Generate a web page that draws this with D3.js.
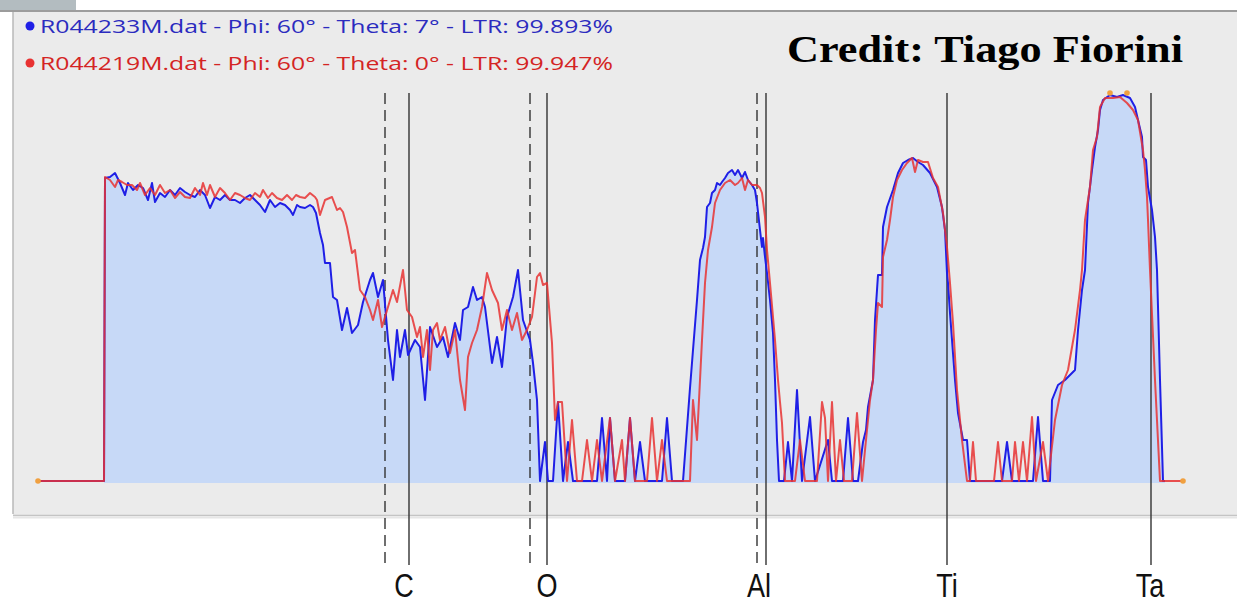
<!DOCTYPE html>
<html>
<head>
<meta charset="utf-8">
<script src="https://cdn.jsdelivr.net/npm/d3@7"></script>
<style>
  body { margin: 0; background: #fff; }
  svg { display: block; }
</style>
</head>
<body>
<svg id="chart" width="1237" height="605"></svg>
<script>
// Spectrum data: [channel, counts]
const spectrumA = [ // R044233M.dat (blue)
  [0,0],[66,0],[67,303],[72,304],[77,308],[82,298],[87,286],[90,298],[95,291],[100,296],
  [105,293],[110,281],[114,298],[117,279],[122,288],[127,284],[132,291],[137,286],[142,293],
  [147,289],[152,286],[157,284],[162,291],[167,286],[172,273],[177,284],[182,281],[187,286],
  [192,281],[197,281],[202,278],[207,283],[212,286],[217,281],[222,276],[227,269],[232,281],
  [237,274],[242,278],[247,276],[252,271],[255,266],[259,276],[262,274],[267,273],[272,276],
  [275,274],[278,268],[282,248],[285,236],[287,218],[292,218],[295,184],[299,181],[304,151],
  [309,173],[314,148],[320,156],[325,179],[332,201],[335,208],[340,184],[345,201],[350,141],
  [355,101],[359,151],[362,124],[367,151],[370,126],[377,141],[382,134],[387,81],[392,154],
  [399,134],[405,144],[410,124],[417,158],[422,141],[425,171],[430,174],[435,194],[439,181],
  [444,184],[447,174],[454,118],[459,144],[464,114],[469,164],[475,184],[480,211],[485,161],
  [492,141],[495,118],[499,81],[502,0],[507,39],[510,0],[515,0],[520,79],[525,0],[530,39],
  [535,0],[559,0],[564,63],[569,0],[572,63],[577,0],[587,0],[592,63],[597,0],[602,39],
  [607,0],[624,0],[629,63],[634,0],[645,0],[652,93],[655,131],[659,181],[662,221],[665,233],
  [667,244],[669,274],[672,278],[674,288],[677,291],[679,298],[682,296],[684,299],[687,303],
  [690,308],[694,311],[697,306],[700,311],[704,303],[707,309],[710,301],[714,296],[717,291],
  [719,278],[722,251],[724,234],[725,243],[727,224],[729,208],[732,181],[735,148],[737,101],
  [739,41],[741,0],[746,0],[750,39],[754,0],[759,91],[764,0],[772,64],[777,0],[790,41],
  [794,0],[805,0],[810,63],[815,0],[820,0],[825,39],[828,51],[830,74],[835,101],[837,161],
  [840,206],[844,206],[845,254],[849,274],[855,291],[860,308],[865,318],[870,321],[875,323],
  [880,319],[885,316],[892,308],[899,294],[904,274],[907,251],[909,208],[910,198],[912,168],
  [917,101],[920,68],[925,41],[929,41],[932,0],[964,0],[969,39],[974,0],[995,0],[1000,64],
  [1005,0],[1012,0],[1014,81],[1020,96],[1027,101],[1032,106],[1037,111],[1040,151],
  [1044,191],[1047,211],[1050,278],[1054,311],[1057,334],[1060,351],[1062,371],[1065,381],
  [1072,386],[1079,384],[1085,386],[1092,383],[1097,374],[1100,361],[1104,344],[1105,324],
  [1108,321],[1110,294],[1114,271],[1117,244],[1119,211],[1122,101],[1125,0],[1127,0]
];

const spectrumB = [ // R044219M.dat (red)
  [0,0],[66,0],[67,304],[72,301],[77,294],[80,301],[84,299],[89,296],[94,296],[99,291],
  [102,298],[107,286],[112,293],[117,286],[122,296],[127,288],[132,291],[137,283],[142,289],
  [147,284],[152,283],[157,293],[162,286],[165,298],[169,286],[172,296],[177,284],[182,293],
  [187,288],[192,281],[197,288],[202,286],[207,283],[212,281],[217,288],[222,284],[225,291],
  [230,283],[234,288],[239,283],[244,281],[249,286],[254,281],[258,286],[262,284],[267,283],
  [272,288],[277,284],[279,281],[282,266],[287,281],[294,284],[299,271],[302,273],[305,269],
  [309,254],[314,228],[317,231],[322,191],[327,184],[332,171],[335,161],[340,181],[344,154],
  [350,174],[355,191],[359,179],[365,211],[369,171],[374,164],[379,144],[382,154],[385,124],
  [389,151],[392,111],[395,151],[399,158],[402,141],[407,154],[412,128],[417,151],[422,101],
  [427,71],[430,124],[434,138],[439,151],[444,174],[449,208],[454,191],[460,178],[464,151],
  [469,171],[474,151],[479,168],[484,141],[489,151],[494,164],[499,204],[502,208],[505,196],
  [509,198],[514,138],[517,61],[520,79],[524,79],[529,0],[534,61],[539,0],[544,0],[549,41],
  [554,0],[559,41],[564,0],[572,63],[577,0],[584,41],[587,0],[592,63],[597,0],[609,0],
  [614,63],[619,0],[624,41],[629,0],[652,0],[655,81],[659,41],[662,101],[664,141],[667,198],
  [670,231],[674,254],[677,278],[682,291],[687,298],[692,301],[697,296],[700,298],[704,303],
  [707,291],[710,301],[714,296],[719,296],[722,293],[724,288],[727,264],[729,231],[732,198],
  [735,164],[737,141],[740,101],[742,79],[744,58],[747,0],[757,0],[762,41],[767,0],[779,0],
  [784,79],[787,63],[790,0],[794,79],[798,0],[802,41],[806,0],[814,0],[819,68],[824,0],
  [828,41],[832,81],[835,101],[838,151],[840,178],[844,174],[845,224],[849,241],[852,261],
  [855,284],[859,301],[864,311],[869,318],[874,323],[877,309],[880,321],[885,319],[890,319],
  [895,303],[900,294],[905,268],[909,234],[912,198],[915,158],[919,91],[924,41],[929,0],
  [932,0],[935,39],[938,0],[956,0],[960,39],[964,0],[974,0],[977,39],[981,0],[985,39],
  [989,0],[994,64],[998,0],[1005,39],[1010,0],[1017,61],[1024,96],[1030,111],[1037,151],
  [1042,191],[1044,211],[1047,261],[1052,294],[1055,331],[1059,344],[1062,374],[1067,383],
  [1075,383],[1082,384],[1089,378],[1095,371],[1100,361],[1105,331],[1107,311],[1109,284],
  [1110,261],[1112,211],[1117,101],[1122,0],[1145,0]
];

const markers = [[0,0],[1145,0],[1072,388],[1089,388]];

const elements = ["C", "O", "Al", "Ti", "Ta"];
const edgeChannels = [371, 509, 728, 909, 1113];
const refChannels = [347, 492, 719];
const labelChannels = [366, 509, 721, 909, 1112];

const legendNames = [
  "R044233M.dat - Phi: 60\u00b0 - Theta: 7\u00b0 - LTR: 99.893%",
  "R044219M.dat - Phi: 60\u00b0 - Theta: 0\u00b0 - LTR: 99.947%"
];
const seriesColors = ["#1f1fe6", "#e83232"];
const legendText = ["#2b2bbf", "#d42424"];

const svg = d3.select("#chart");

// window frame
svg.append("rect").attr("x", 0).attr("y", 0).attr("width", 76).attr("height", 10).attr("fill", "#b3bcc0");
svg.append("rect").attr("x", 13).attr("y", 12).attr("width", 1224).attr("height", 503).attr("fill", "#ebebeb");
svg.append("line").attr("x1", 0).attr("x2", 1237).attr("y1", 11).attr("y2", 11)
  .attr("stroke", "#9c9c9c").attr("stroke-width", 2);
svg.append("line").attr("x1", 13).attr("x2", 13).attr("y1", 12).attr("y2", 514)
  .attr("stroke", "#b8b8b8").attr("stroke-width", 1.5);
svg.append("line").attr("x1", 13).attr("x2", 1237).attr("y1", 515.5).attr("y2", 515.5)
  .attr("stroke", "#c4c4c4").attr("stroke-width", 1.5);
svg.append("line").attr("x1", 13).attr("x2", 1237).attr("y1", 517.5).attr("y2", 517.5)
  .attr("stroke", "#e6e6e6").attr("stroke-width", 2);

const x = d3.scaleLinear().domain([0, 1145]).range([38, 1183]);
const y = d3.scaleLinear().domain([0, 388]).range([481, 93]);

// fill under first spectrum
const area = d3.area()
  .x(d => x(d[0]))
  .y0(y(0) + 2)
  .y1(d => y(d[1]));
svg.append("path")
  .datum(spectrumA.filter(d => d[0] >= 66 && d[0] <= 1127))
  .attr("d", area)
  .attr("fill", "#c7d9f7");

// element lines
svg.append("g").selectAll("line.ref")
  .data(refChannels)
  .enter().append("line")
  .attr("x1", d => x(d)).attr("x2", d => x(d))
  .attr("y1", y(388)).attr("y2", 565)
  .attr("stroke", "#333").attr("stroke-width", 1.4)
  .attr("stroke-dasharray", "11,6");

svg.append("g").selectAll("line.edge")
  .data(edgeChannels)
  .enter().append("line")
  .attr("x1", d => x(d)).attr("x2", d => x(d))
  .attr("y1", y(388)).attr("y2", 565)
  .attr("stroke", "#333").attr("stroke-width", 1.4);

const line = d3.line()
  .x(d => x(d[0]))
  .y(d => y(d[1]));

[spectrumA, spectrumB].forEach(function(s, i) {
  svg.append("path")
    .datum(s)
    .attr("d", line)
    .attr("fill", "none")
    .attr("stroke", seriesColors[i])
    .attr("stroke-width", 2)
    .attr("stroke-linejoin", "round")
    .attr("opacity", i ? 0.85 : 1);
});

svg.append("g").selectAll("circle")
  .data(markers)
  .enter().append("circle")
  .attr("cx", d => x(d[0]))
  .attr("cy", d => y(d[1]))
  .attr("r", 2.8)
  .attr("fill", "#f0a040");

// legend
const legend = svg.append("g").selectAll("g")
  .data(legendNames)
  .enter().append("g")
  .attr("transform", (d, i) => `translate(30,${26 + i * 37})`);
legend.append("circle").attr("r", 4.5).attr("fill", (d, i) => seriesColors[i]);
legend.append("text")
  .attr("x", 10).attr("y", 6.5)
  .attr("font-family", "'Open Sans', sans-serif")
  .attr("font-size", 18)
  .attr("textLength", 573).attr("lengthAdjust", "spacingAndGlyphs")
  .attr("fill", (d, i) => legendText[i])
  .text(d => d);

svg.append("text")
  .attr("x", 787).attr("y", 62)
  .attr("font-family", "'Liberation Serif', serif")
  .attr("font-weight", "bold")
  .attr("font-size", 37)
  .attr("textLength", 396).attr("lengthAdjust", "spacingAndGlyphs")
  .attr("fill", "#000")
  .text("Credit: Tiago Fiorini");

// element labels
svg.append("g").selectAll("text")
  .data(elements)
  .enter().append("text")
  .attr("transform", (d, i) => `translate(${x(labelChannels[i])},597) scale(0.82,1)`)
  .attr("text-anchor", "middle")
  .attr("font-family", "'Liberation Sans', Arial, sans-serif")
  .attr("font-size", 33)
  .attr("fill", "#111")
  .text(d => d);
</script>
</body>
</html>
